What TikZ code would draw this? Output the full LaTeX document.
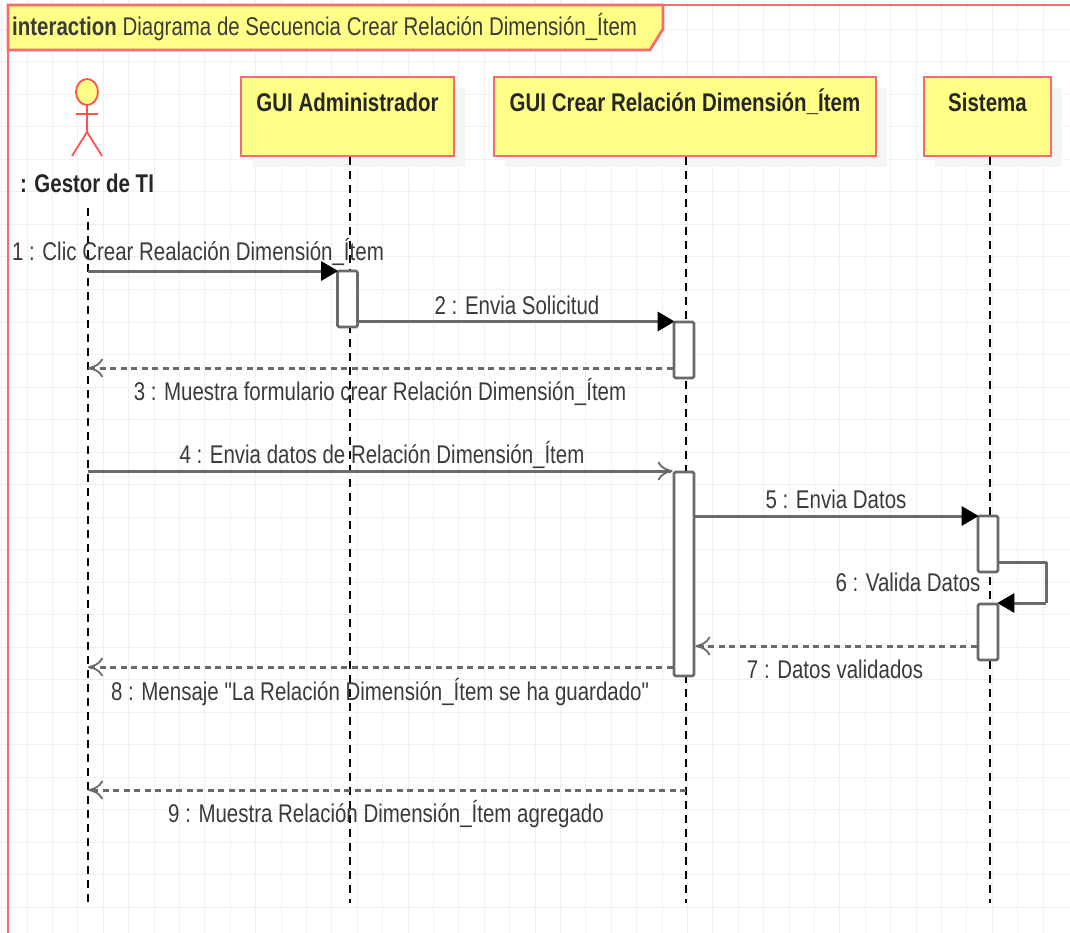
\documentclass[tikz,border=0pt]{standalone}
\usepackage{fontspec}
\setmainfont[FakeStretch=0.8,Ligatures=TeXOff]{Liberation Sans}
\usepackage{xcolor}
\usetikzlibrary{
  positioning,
  calc,
  arrows.meta,
  shadows
}
\definecolor{umlfill}{HTML}{FFFF88}
\definecolor{umlred}{HTML}{F96B6B}
\definecolor{actorred}{HTML}{FF5050}
\definecolor{gridgray}{HTML}{F0F0F0}
\definecolor{msggray}{HTML}{6A6A6A}
\definecolor{labelgray}{HTML}{3A3A3A}
\tikzset{
  lifebox/.style={draw=umlred, line width=2.8pt, fill=umlfill, inner sep=0pt, minimum height=79pt,
    drop shadow={shadow xshift=11pt, shadow yshift=-11pt, fill=black!4, opacity=1}},
  boxlabel/.style={font=\fontsize{25.6}{28}\selectfont\bfseries, text=black!85},
  lifeline/.style={black, line width=1.8pt, dash pattern=on 8pt off 6pt},
  activation/.style={draw=msggray, line width=2.6pt, fill=white, rounded corners=1.5pt, inner sep=0pt, minimum width=20pt},
  syncmsg/.style={draw=msggray, line width=3pt, shorten >=-2pt, -{Triangle[length=17pt,width=19pt,black]}},
  sendmsg/.style={draw=msggray, line width=3pt, -{To[length=15pt,width=19pt,line width=1.8pt]}},
  retmsg/.style={draw=msggray, line width=3pt, dash pattern=on 6pt off 4.5pt, -{To[length=15pt,width=19pt,line width=1.8pt]}},
  msglabel/.style={font=\fontsize{25.6}{28}\selectfont, text=labelgray}
}
\begin{document}
\begin{tikzpicture}[x=1pt, y=-1pt]
  \useasboundingbox (0,0) rectangle (1070,933);

  % Background grid
  \foreach \gx in {0,...,41} {
    \draw[gridgray, line width=1pt] ({1.6+25.4*\gx},0) -- ({1.6+25.4*\gx},933);
  }
  \foreach \gy in {0,...,28} {
    \draw[gridgray, line width=1pt] (0,{29.5+32.5*\gy}) -- (1070,{29.5+32.5*\gy});
  }

  % Frame and title tab
  \draw[umlred, line width=2.8pt] (8,933) -- (8,5) -- (1070,5);
  \draw[umlred, line width=2.8pt, fill=umlfill] (8,5) -- (663,5) -- (663,29) -- (650,50) -- (8,50) -- cycle;
  \node[msglabel, anchor=base west, inner sep=0pt] (frametitle) at (12,36)
    {\textbf{interaction} Diagrama de Secuencia Crear Relación Dimensión\_Ítem};

  % Actor
  \draw[actorred, line width=1.8pt, fill=umlfill] (87,92) ellipse (11pt and 13pt);
  \draw[actorred, line width=1.8pt] (87,105) -- (87,132) (76,114) -- (98,114) (72,156) -- (87,132) -- (102,156);
  \node[boxlabel] (gestor) at (87,183) {: Gestor de TI};

  % Lifeline heads
  \node[lifebox, minimum width=213pt] (admin) at (347.5,116.5) {};
  \node[boxlabel] (adminlabel) at (347.5,102) {GUI Administrador};
  \node[lifebox, minimum width=382pt] (crear) at (685,116.5) {};
  \node[boxlabel] (crearlabel) at (685,102) {GUI Crear Relación Dimensión\_Ítem};
  \node[lifebox, minimum width=127pt] (sistema) at (987.5,116.5) {};
  \node[boxlabel] (sistemalabel) at (987.5,102) {Sistema};

  % Lifelines
  \coordinate (gestortop) at (88,208);
  \coordinate (gestorend) at (88,903);
  \coordinate (adminend) at (350,903);
  \coordinate (crearend) at (686,903);
  \coordinate (sistemaend) at (990,903);
  \draw[lifeline] (gestortop) -- (gestorend);
  \draw[lifeline] (adminend |- admin.south) -- (adminend);
  \draw[lifeline] (crearend |- crear.south) -- (crearend);
  \draw[lifeline] (sistemaend |- sistema.south) -- (sistemaend);

  % Activation bars
  \node[activation, minimum height=56pt] (barone) at (347.5,299) {};
  \node[activation, minimum height=56pt] (bartwo) at (684,350) {};
  \node[activation, minimum height=204pt] (barthree) at (684,574) {};
  \node[activation, minimum height=56pt] (barfour) at (988,544) {};
  \node[activation, minimum height=56pt] (barfive) at (988,632) {};

  % Messages
  \coordinate (msgone) at (88,271);
  \coordinate (msgtwo) at (358,321.5);
  \coordinate (msgthree) at (88,368);
  \coordinate (msgfour) at (88,471);
  \coordinate (msgfive) at (694,516);
  \coordinate (msgeight) at (88,667);
  \coordinate (msgnine) at (88,790);
  \coordinate (msgseven) at (978,646);
  \coordinate (selfout) at (1046,562);
  \coordinate (selfin) at (1046,603);
  \draw[syncmsg] (msgone) -- (barone.west |- msgone);
  \draw[syncmsg] (msgtwo) -- (bartwo.west |- msgtwo);
  \draw[retmsg] (bartwo.west |- msgthree) -- (msgthree);
  \draw[sendmsg] (msgfour) -- (barthree.west |- msgfour);
  \draw[syncmsg] (msgfive) -- (barfour.west |- msgfive);
  \draw[draw=msggray, line width=3pt, line join=round] (barfour.east |- selfout) -- (selfout) -- (selfin);
  \draw[syncmsg] (selfin) -- (barfive.east |- selfin);
  \draw[retmsg] (barfive.west |- msgseven) -- (barthree.east |- msgseven);
  \draw[retmsg] (barthree.west |- msgeight) -- (msgeight);
  \draw[retmsg] (crearend |- msgnine) -- (msgnine);

  % Message labels
  \node[msglabel] (labelone) at (198,252) {1 : Clic Crear Realación Dimensión\_Ítem};
  \node[msglabel] (labeltwo) at (517,305) {2 : Envia Solicitud};
  \node[msglabel] (labelthree) at (380,392) {3 : Muestra formulario crear Relación Dimensión\_Ítem};
  \node[msglabel] (labelfour) at (382,455) {4 : Envia datos de Relación Dimensión\_Ítem};
  \node[msglabel] (labelfive) at (836,499) {5 : Envia Datos};
  \node[msglabel] (labelsix) at (908,582) {6 : Valida Datos};
  \node[msglabel] (labelseven) at (835,669) {7 : Datos validados};
  \node[msglabel] (labeleight) at (380,692) {8 : Mensaje "La Relación Dimensión\_Ítem se ha guardado"};
  \node[msglabel] (labelnine) at (386,814) {9 : Muestra Relación Dimensión\_Ítem agregado};
\end{tikzpicture}
\end{document}
